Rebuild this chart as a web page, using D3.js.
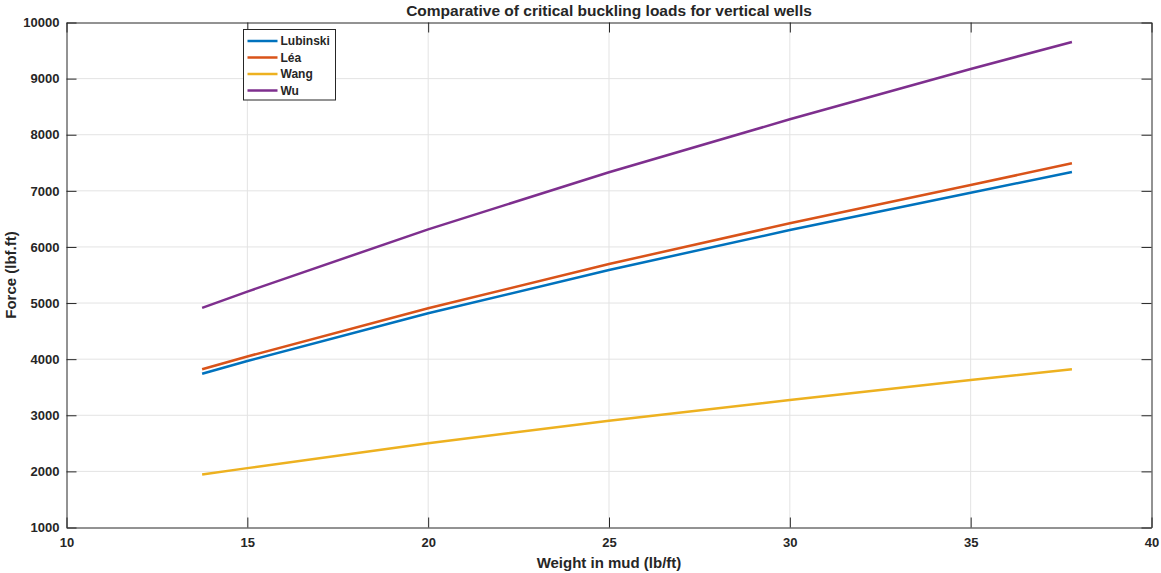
<!DOCTYPE html>
<html lang="en">
<head>
<meta charset="UTF-8">
<title>Critical buckling loads</title>
<script src="https://d3js.org/d3.v7.min.js"></script>
<style>
    body { margin: 0; background: #fff; }
    svg text { font-family: "Liberation Sans", Arial, sans-serif; font-weight: bold; fill: #262626; }
</style>
</head>
<body>
<svg width="1161" height="573"></svg>
<script>
    // weight in mud (lb/ft)
    const weights = [13.75, 15, 20, 25, 30, 35, 37.8];
    const lubinski = [3741, 3968, 4817, 5589, 6302, 6967, 7336];
    const lea = [3819, 4048, 4907, 5696, 6421, 7104, 7490];
    const wang = [1945, 2058, 2500, 2904, 3272, 3629, 3819];
    const wu = [4913, 5205, 6314, 7330, 8275, 9172, 9652];

    const seriesNames = ["Lubinski", "Léa", "Wang", "Wu"];
    const seriesValues = [lubinski, lea, wang, wu];
    const colors = ["#0072BD", "#D95319", "#EDB120", "#7E2F8E"];

    const xTicks = [10, 15, 20, 25, 30, 35, 40];
    const yTicks = d3.range(1000, 10001, 1000);

    const svg = d3.select("svg");
    const plotL = 66.5, plotR = 1151.5, plotT = 22.5, plotB = 527.5;

    const x = d3.scaleLinear().domain([10, 40]).range([plotL, plotR]);
    const y = d3.scaleLinear().domain([1000, 10000]).range([plotB, plotT]);

    // grid
    const grid = svg.append("g");
    grid.selectAll("line.gx").data(xTicks.slice(1, -1)).enter().append("line")
        .attr("x1", d => x(d)).attr("x2", d => x(d))
        .attr("y1", plotT).attr("y2", plotB)
        .attr("stroke", "#e3e3e3").attr("stroke-width", 1);
    grid.selectAll("line.gy").data(yTicks.slice(1, -1)).enter().append("line")
        .attr("y1", d => y(d)).attr("y2", d => y(d))
        .attr("x1", plotL).attr("x2", plotR)
        .attr("stroke", "#e3e3e3").attr("stroke-width", 1);

    // lines
    const line = d3.line()
        .x((d, i) => x(weights[i]))
        .y(d => y(d));

    svg.append("g").selectAll("path").data(seriesValues).enter().append("path")
        .attr("d", d => line(d))
        .attr("fill", "none")
        .attr("stroke", (d, i) => colors[i])
        .attr("stroke-width", 2.5)
        .attr("stroke-linejoin", "round");

    // axes, MATLAB style: ticks inward, on all sides
    const tickLen = 10;
    const axisColor = "#262626";
    svg.append("g").attr("transform", `translate(0,${plotB})`)
        .call(d3.axisBottom(x).tickValues(xTicks).tickSizeInner(-tickLen).tickSizeOuter(0)
            .tickPadding(10).tickFormat(d3.format("d")))
        .call(g => g.selectAll("text").attr("font-size", 13).attr("font-family", null));
    svg.append("g").attr("transform", `translate(0,${plotT})`)
        .call(d3.axisTop(x).tickValues(xTicks).tickSizeInner(-tickLen).tickSizeOuter(0).tickFormat(""));
    svg.append("g").attr("transform", `translate(${plotL},0)`)
        .call(d3.axisLeft(y).tickValues(yTicks).tickSizeInner(-tickLen).tickSizeOuter(0)
            .tickPadding(7).tickFormat(d3.format("d")))
        .call(g => g.selectAll("text").attr("font-size", 13).attr("font-family", null));
    svg.append("g").attr("transform", `translate(${plotR},0)`)
        .call(d3.axisRight(y).tickValues(yTicks).tickSizeInner(-tickLen).tickSizeOuter(0).tickFormat(""));
    svg.selectAll(".domain").attr("stroke", axisColor);
    svg.selectAll(".tick line").attr("stroke", axisColor);

    // titles
    svg.append("text").attr("x", (plotL + plotR) / 2).attr("y", 16)
        .attr("text-anchor", "middle").attr("font-size", 15.5)
        .text("Comparative of critical buckling loads for vertical wells");
    svg.append("text").attr("x", (plotL + plotR) / 2).attr("y", 568)
        .attr("text-anchor", "middle").attr("font-size", 15)
        .text("Weight in mud (lb/ft)");
    svg.append("text").attr("transform", `translate(16,${(plotT + plotB) / 2}) rotate(-90)`)
        .attr("text-anchor", "middle").attr("font-size", 15)
        .text("Force (lbf.ft)");

    // legend
    const legend = svg.append("g").attr("transform", "translate(243.5,29.5)");
    legend.append("rect").attr("width", 92).attr("height", 70.5)
        .attr("fill", "#fff").attr("stroke", "#262626").attr("stroke-width", 1);
    const rows = legend.selectAll("g").data(seriesNames).enter().append("g")
        .attr("transform", (d, i) => `translate(0,${11.5 + i * 16.5})`);
    rows.append("line").attr("x1", 4).attr("x2", 34)
        .attr("stroke", (d, i) => colors[i]).attr("stroke-width", 2.5);
    rows.append("text").attr("x", 37).attr("dy", "0.35em").attr("font-size", 12)
        .text(d => d);
</script>
</body>
</html>
